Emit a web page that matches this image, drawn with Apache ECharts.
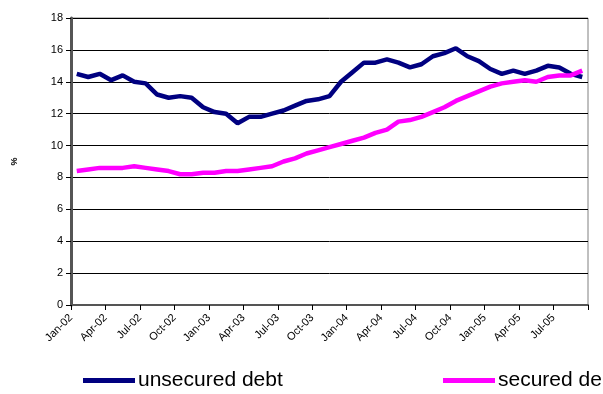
<!DOCTYPE html>
<html>
<head>
<meta charset="utf-8">
<script src="https://cdn.jsdelivr.net/npm/echarts@6/dist/echarts.min.js"></script>
<style>
  html, body { margin: 0; padding: 0; background: #ffffff; }
  #chart { width: 603px; height: 394px; }
</style>
</head>
<body>
<div id="chart"></div>
<script>
// Monthly observations, Jan-02 to Sep-05
const months = [
  'Jan-02','Feb-02','Mar-02','Apr-02','May-02','Jun-02','Jul-02','Aug-02','Sep-02','Oct-02','Nov-02','Dec-02',
  'Jan-03','Feb-03','Mar-03','Apr-03','May-03','Jun-03','Jul-03','Aug-03','Sep-03','Oct-03','Nov-03','Dec-03',
  'Jan-04','Feb-04','Mar-04','Apr-04','May-04','Jun-04','Jul-04','Aug-04','Sep-04','Oct-04','Nov-04','Dec-04',
  'Jan-05','Feb-05','Mar-05','Apr-05','May-05','Jun-05','Jul-05','Aug-05','Sep-05'
];

const unsecuredDebt = [
  14.5, 14.3, 14.5, 14.1, 14.4, 14.0, 13.9, 13.2, 13.0, 13.1, 13.0, 12.4,
  12.1, 12.0, 11.4, 11.8, 11.8, 12.0, 12.2, 12.5, 12.8, 12.9, 13.1, 14.0,
  14.6, 15.2, 15.2, 15.4, 15.2, 14.9, 15.1, 15.6, 15.8, 16.1, 15.6, 15.3,
  14.8, 14.5, 14.7, 14.5, 14.7, 15.0, 14.9, 14.5, 14.3
];

const securedDebt = [
  8.4, 8.5, 8.6, 8.6, 8.6, 8.7, 8.6, 8.5, 8.4, 8.2, 8.2, 8.3,
  8.3, 8.4, 8.4, 8.5, 8.6, 8.7, 9.0, 9.2, 9.5, 9.7, 9.9, 10.1,
  10.3, 10.5, 10.8, 11.0, 11.5, 11.6, 11.8, 12.1, 12.4, 12.8, 13.1, 13.4,
  13.7, 13.9, 14.0, 14.1, 14.0, 14.3, 14.4, 14.4, 14.7
];

const yTicks = [0, 2, 4, 6, 8, 10, 12, 14, 16, 18];

// Each month occupies one unit slot on the x axis; points sit in the middle of their slot
const toPoints = arr => arr.map((v, i) => [i + 0.5, v]);

const font = 'Arial, "Liberation Sans", sans-serif';
const chart = echarts.init(document.getElementById('chart'), null, { renderer: 'canvas' });

const legendStyle = {
  top: 370,
  padding: 0,
  icon: 'rect', itemWidth: 52, itemHeight: 5, itemGap: 4,
  textStyle: { fontFamily: font, fontSize: 21, color: '#000000', padding: [0, 0, 0, -2] }
};

chart.setOption({
  animation: false,
  backgroundColor: '#ffffff',
  grid: {
    left: 71, right: 15, top: 18, bottom: 89,
    show: true, borderColor: '#808080', borderWidth: 1, backgroundColor: 'transparent'
  },
  xAxis: {
    type: 'value',
    min: 0,
    max: months.length,
    interval: 3,
    splitLine: { show: false },
    axisLine: { show: true, onZero: false, lineStyle: { color: '#555555', width: 2 } },
    axisTick: { show: true, inside: false, length: 5, lineStyle: { color: '#000000', width: 1 } },
    axisLabel: {
      rotate: 45,
      margin: 11,
      fontFamily: font,
      fontSize: 11,
      color: '#000000',
      showMaxLabel: true,
      formatter: v => (v < months.length ? months[Math.round(v)] : '')
    }
  },
  yAxis: {
    type: 'value',
    min: yTicks[0],
    max: yTicks[yTicks.length - 1],
    interval: 2,
    name: '%',
    nameLocation: 'middle',
    nameGap: 52,
    nameTextStyle: { fontFamily: font, fontSize: 9, fontWeight: 'bold', color: '#000000' },
    axisLine: { show: true, lineStyle: { color: '#555555', width: 3 } },
    axisTick: { show: true, inside: false, length: 5, lineStyle: { color: '#000000', width: 1 } },
    axisLabel: { margin: 8, fontFamily: font, fontSize: 11, color: '#000000' },
    splitLine: { show: true, lineStyle: { color: '#000000', width: 1 } }
  },
  legend: [
    Object.assign({ data: ['unsecured debt'], left: 83 }, legendStyle),
    Object.assign({ data: ['secured debt'], left: 443 }, legendStyle)
  ],
  series: [
    {
      name: 'unsecured debt',
      type: 'line',
      data: toPoints(unsecuredDebt),
      showSymbol: false,
      symbol: 'none',
      color: '#000080',
      lineStyle: { color: '#000080', width: 4.5 }
    },
    {
      name: 'secured debt',
      type: 'line',
      data: toPoints(securedDebt),
      showSymbol: false,
      symbol: 'none',
      color: '#ff00ff',
      lineStyle: { color: '#ff00ff', width: 4.5 }
    }
  ]
});
</script>
</body>
</html>
